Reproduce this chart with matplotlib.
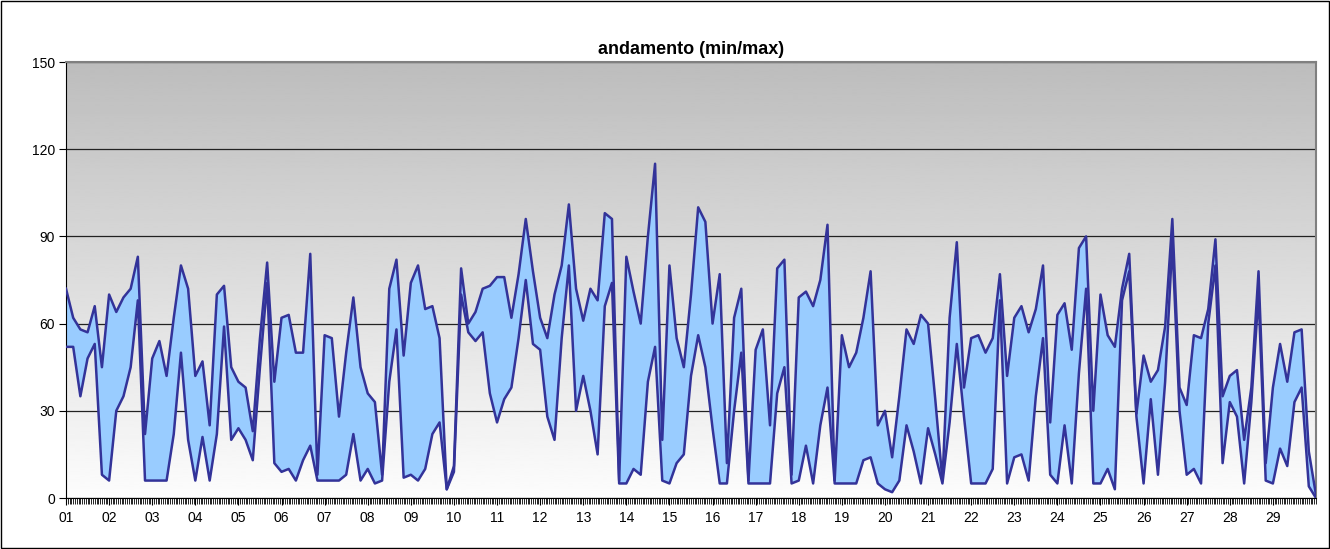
import numpy as np
import matplotlib
matplotlib.use("Agg")
import matplotlib.pyplot as plt
from matplotlib.patches import Rectangle

plt.rcParams["font.family"] = ["Liberation Sans", "DejaVu Sans"]

# hourly readings sampled every 4 hours, 29 days
hours = np.arange(0, 697, 4)
day_labels = ["%02d" % d for d in range(1, 30)]

max_vals = [
    72, 62, 58, 57, 66, 45,    # 01
    70, 64, 69, 72, 83, 22,    # 02
    48, 54, 42, 62, 80, 72,    # 03
    42, 47, 25, 70, 73, 45,    # 04
    40, 38, 23, 55, 81, 40,    # 05
    62, 63, 50, 50, 84, 8,     # 06
    56, 55, 28, 50, 69, 45,    # 07
    36, 33, 8, 72, 82, 49,     # 08
    74, 80, 65, 66, 55, 3,     # 09
    11, 79, 60, 64, 72, 73,    # 10
    76, 76, 62, 77, 96, 78,    # 11
    62, 55, 70, 80, 101, 72,   # 12
    61, 72, 68, 98, 96, 6,     # 13
    83, 71, 60, 90, 115, 20,   # 14
    80, 55, 45, 70, 100, 95,   # 15
    60, 77, 12, 62, 72, 6,     # 16
    51, 58, 25, 79, 82, 8,     # 17
    69, 71, 66, 75, 94, 6,     # 18
    56, 45, 50, 62, 78, 25,    # 19
    30, 14, 35, 58, 53, 63,    # 20
    60, 34, 6, 62, 88, 38,     # 21
    55, 56, 50, 55, 77, 42,    # 22
    62, 66, 57, 65, 80, 26,    # 23
    63, 67, 51, 86, 90, 30,    # 24
    70, 56, 52, 72, 84, 29,    # 25
    49, 40, 44, 59, 96, 38,    # 26
    32, 56, 55, 65, 89, 35,    # 27
    42, 44, 20, 38, 78, 12,    # 28
    38, 53, 40, 57, 58, 16,    # 29
    1,
]

min_vals = [
    52, 52, 35, 48, 53, 8,
    6, 30, 35, 45, 68, 6,
    6, 6, 6, 22, 50, 20,
    6, 21, 6, 22, 59, 20,
    24, 20, 13, 45, 74, 12,
    9, 10, 6, 13, 18, 6,
    6, 6, 6, 8, 22, 6,
    10, 5, 6, 40, 58, 7,
    8, 6, 10, 22, 26, 3,
    9, 70, 57, 54, 57, 36,
    26, 34, 38, 55, 75, 53,
    51, 28, 20, 55, 80, 30,
    42, 30, 15, 66, 74, 5,
    5, 10, 8, 40, 52, 6,
    5, 12, 15, 42, 56, 45,
    24, 5, 5, 30, 50, 5,
    5, 5, 5, 36, 45, 5,
    6, 18, 5, 25, 38, 5,
    5, 5, 5, 13, 14, 5,
    3, 2, 6, 25, 16, 5,
    24, 15, 5, 26, 53, 28,
    5, 5, 5, 10, 68, 5,
    14, 15, 6, 35, 55, 8,
    5, 25, 5, 43, 72, 5,
    5, 10, 3, 68, 78, 28,
    5, 34, 8, 40, 88, 30,
    8, 10, 5, 60, 80, 12,
    33, 28, 5, 33, 70, 6,
    5, 17, 11, 33, 38, 4,
    0,
]

fig = plt.figure(figsize=(13.3, 5.49), dpi=100)
ax = fig.add_axes([66 / 1330, 1 - 498 / 549, 1250 / 1330, 436 / 549])

# grey (top) to white (bottom) plot area background
grad = np.linspace(0.74, 0.99, 256).reshape(-1, 1)
ax.imshow(grad, extent=[0, 696, 0, 150], origin="upper", aspect="auto",
          cmap="gray", vmin=0, vmax=1, zorder=0, interpolation="bilinear")

ax.fill_between(hours, min_vals, max_vals, color="#99CCFF", lw=0, zorder=2)
ax.plot(hours, max_vals, color="#333399", lw=1.8, zorder=3)
ax.plot(hours, min_vals, color="#333399", lw=1.8, zorder=3)

ax.set_xlim(0, 696)
ax.set_ylim(0, 150)
ax.set_yticks(range(0, 151, 30))
ax.set_xticks(range(0, 696, 24))
ax.set_xticklabels(day_labels)
ax.set_xticks(range(0, 697), minor=True)
ax.tick_params(axis="x", which="major", length=5, direction="out", labelsize=10, pad=4)
ax.tick_params(axis="x", which="minor", length=4, direction="out", width=0.6)
ax.tick_params(axis="y", length=5, direction="out", labelsize=10, pad=3)

ax.set_axisbelow(True)
ax.yaxis.grid(True, color="#222222", lw=0.9)

for side in ["left", "bottom"]:
    ax.spines[side].set_color("black")
for side in ["top", "right"]:
    ax.spines[side].set_color("#808080")
    ax.spines[side].set_linewidth(1.5)

ax.set_title("andamento (min/max)", fontsize=13, fontweight="bold", pad=6)

fig.patches.append(Rectangle((0.0008, 0.0015), 0.9985, 0.997, transform=fig.transFigure,
                             fill=False, edgecolor="black", lw=1))

fig.savefig("out.png", dpi=100)
